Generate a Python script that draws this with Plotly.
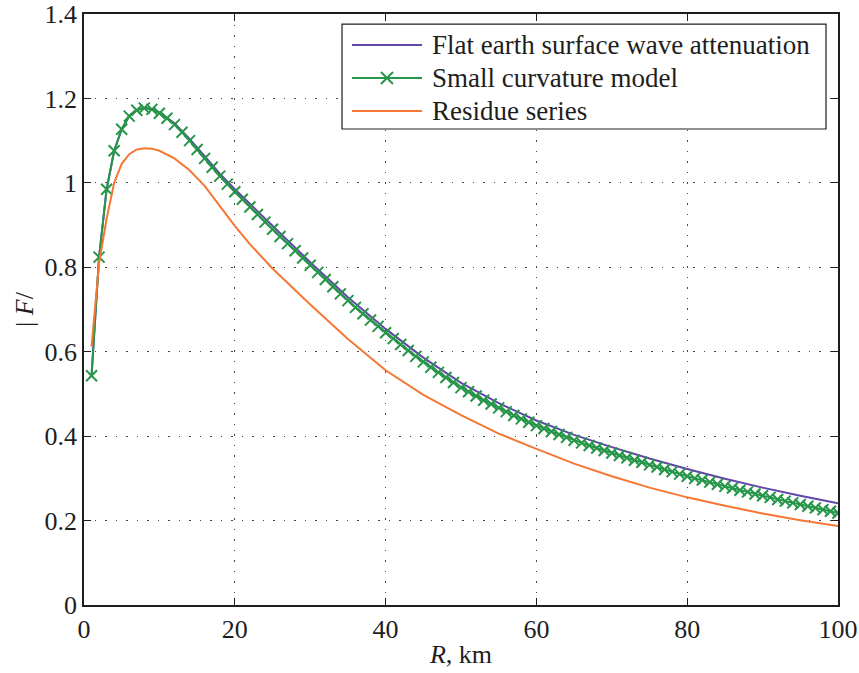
import plotly.graph_objects as go

# Small curvature model (markers at every km)
r_small = list(range(1, 101))
f_small = [
    0.543, 0.824, 0.985, 1.076, 1.127, 1.158, 1.172, 1.177, 1.174, 1.165,
    1.153, 1.138, 1.120, 1.100, 1.079, 1.058, 1.037, 1.016, 0.997, 0.979,
    0.961, 0.943, 0.925, 0.907, 0.890, 0.873, 0.856, 0.839, 0.822, 0.805,
    0.788, 0.771, 0.754, 0.737, 0.721, 0.705, 0.690, 0.675, 0.660, 0.645,
    0.631, 0.617, 0.603, 0.589, 0.576, 0.563, 0.551, 0.539, 0.527, 0.515,
    0.505, 0.495, 0.485, 0.476, 0.467, 0.458, 0.449, 0.441, 0.433, 0.425,
    0.418, 0.411, 0.404, 0.397, 0.390, 0.384, 0.378, 0.372, 0.366, 0.360,
    0.354, 0.349, 0.343, 0.338, 0.332, 0.327, 0.321, 0.316, 0.310, 0.305,
    0.300, 0.296, 0.291, 0.286, 0.281, 0.277, 0.272, 0.268, 0.263, 0.259,
    0.255, 0.250, 0.246, 0.242, 0.238, 0.234, 0.230, 0.226, 0.222, 0.218,
]

# Flat earth and residue series
r_line = [1, 2, 3, 4, 5, 6, 7, 8, 9, 10, 12, 14, 16, 18, 20, 22, 25, 30, 35, 40,
          45, 50, 55, 60, 65, 70, 75, 80, 85, 90, 95, 100]
f_flat = [0.543, 0.824, 0.985, 1.076, 1.127, 1.159, 1.173, 1.178, 1.175, 1.167,
          1.141, 1.104, 1.063, 1.022, 0.985, 0.950, 0.897, 0.812, 0.729, 0.654,
          0.586, 0.526, 0.478, 0.437, 0.403, 0.374, 0.347, 0.322, 0.299, 0.278,
          0.259, 0.241]
f_residue = [0.612, 0.810, 0.915, 1.000, 1.045, 1.068, 1.079, 1.082, 1.081, 1.076,
             1.058, 1.030, 0.993, 0.946, 0.898, 0.855, 0.797, 0.712, 0.630, 0.556,
             0.498, 0.450, 0.406, 0.370, 0.335, 0.305, 0.278, 0.255, 0.235, 0.217,
             0.201, 0.187]

series_names = ["Flat earth surface wave attenuation", "Small curvature model", "Residue series"]
x_ticks = [0, 20, 40, 60, 80, 100]
y_ticks = [0, 0.2, 0.4, 0.6, 0.8, 1, 1.2, 1.4]

PURPLE = "rgb(98,70,170)"
GREEN = "rgb(38,150,72)"
ORANGE = "rgb(246,119,52)"
INK = "rgb(30,30,30)"
FONT = "Liberation Serif"
FS = 26
colors = [PURPLE, GREEN, ORANGE]

fig = go.Figure()
fig.add_trace(go.Scatter(x=r_line, y=f_flat, mode="lines",
                         name=series_names[0],
                         line=dict(color=PURPLE, width=2)))
fig.add_trace(go.Scatter(x=r_small, y=f_small, mode="lines+markers",
                         name=series_names[1],
                         line=dict(color=GREEN, width=2),
                         marker=dict(symbol="x-thin", size=11,
                                     line=dict(color=GREEN, width=2))))
fig.add_trace(go.Scatter(x=r_line, y=f_residue, mode="lines",
                         name=series_names[2],
                         line=dict(color=ORANGE, width=2)))

axis_common = dict(
    showline=True, linecolor=INK, linewidth=1.5, mirror="allticks",
    ticks="inside", ticklen=7, tickcolor=INK, tickwidth=1,
    showgrid=True, gridcolor="rgb(70,70,70)", griddash="1.5px,9px", gridwidth=1,
    zeroline=False, automargin=False, ticklabeloverflow="allow",
    tickfont=dict(family=FONT, size=FS, color=INK),
)

fig.update_xaxes(range=[0, 100], tickvals=x_ticks,
                 title=dict(text="<i>R</i>, km", font=dict(family=FONT, size=FS, color=INK),
                            standoff=2),
                 **axis_common)
fig.update_yaxes(range=[0, 1.4], tickvals=y_ticks,
                 title=dict(text="| <i>F</i>/", font=dict(family=FONT, size=FS, color=INK),
                            standoff=3),
                 **axis_common)

# Legend drawn in paper coordinates (box, line samples, marker, labels)
box = dict(x0=0.3422, x1=0.9841, y0=0.8054, y1=0.983)
row_y = [0.9475, 0.8917, 0.8359]
line_x0, line_x1, text_x = 0.3554, 0.4483, 0.4589
fig.add_shape(type="rect", xref="paper", yref="paper", **box,
              line=dict(color=INK, width=1.2), fillcolor="white", layer="above")
for name, col, yy in zip(series_names, colors, row_y):
    fig.add_shape(type="line", xref="paper", yref="paper",
                  x0=line_x0, x1=line_x1, y0=yy, y1=yy,
                  line=dict(color=col, width=2), layer="above")
    fig.add_annotation(xref="paper", yref="paper", x=text_x, y=yy, text=name,
                       showarrow=False, xanchor="left", yanchor="middle",
                       font=dict(family=FONT, size=27, color=INK))
mx, my = (line_x0 + line_x1) / 2, row_y[1]
dx, dy = 6 / 754, 6 / 591
fig.add_shape(type="path", xref="paper", yref="paper",
              path=f"M {mx-dx} {my-dy} L {mx+dx} {my+dy} M {mx-dx} {my+dy} L {mx+dx} {my-dy}",
              line=dict(color=GREEN, width=2), layer="above")

fig.update_layout(
    width=859, height=673,
    margin=dict(l=84, r=21, t=14, b=68),
    paper_bgcolor="white", plot_bgcolor="white",
    font=dict(family=FONT, size=FS, color=INK),
    showlegend=False,
)

fig.write_html("out.html", config={"displayModeBar": False},
               post_script="document.body.style.margin='0';document.body.style.padding='0';")
